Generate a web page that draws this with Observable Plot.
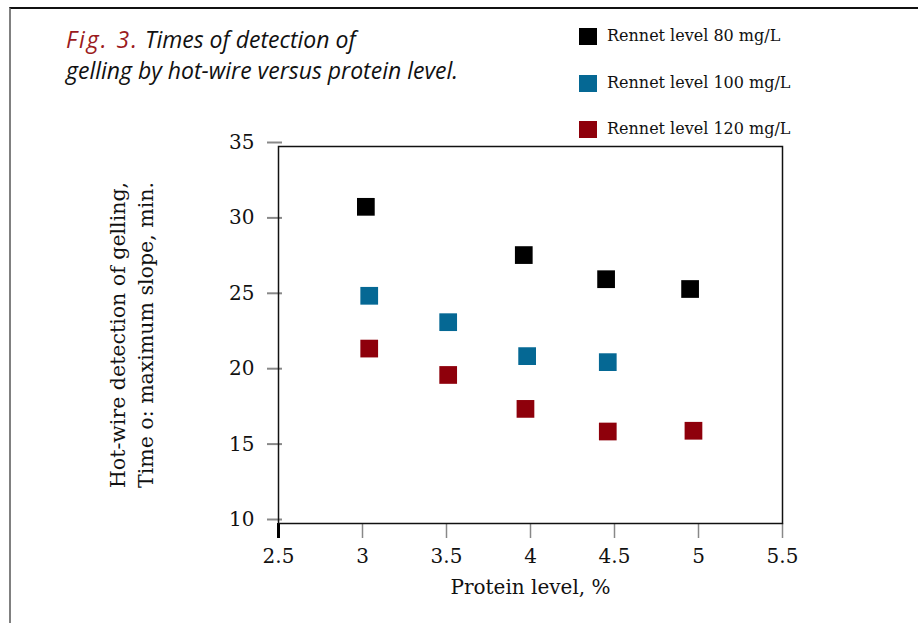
<!DOCTYPE html>
<html>
<head>
<meta charset="utf-8">
<script src="https://cdn.jsdelivr.net/npm/d3@7"></script>
<script src="https://cdn.jsdelivr.net/npm/@observablehq/plot@0.6"></script>
<style>
  html, body { margin: 0; padding: 0; background: #fff; }
  #wrap { position: relative; width: 918px; height: 623px; overflow: hidden; }
  #outer { position: absolute; left: 9px; top: 7px; width: 1000px; height: 700px;
           border-top: 2px solid #111; border-left: 2px solid #808080; }
  #title { position: absolute; left: 66px; top: 24px; font-family: "Open Sans", sans-serif;
           font-style: italic; font-size: 23px; line-height: 31px; color: #111; white-space: nowrap; }
  #title .fig { color: #9b1a20; letter-spacing: 2px; }
  #legend { position: absolute; left: 579px; top: 0; font-family: "DejaVu Serif", serif; font-size: 16px; color: #111; }
  .item { position: absolute; left: 0; white-space: nowrap; height: 18px; }
  .sw { position: absolute; left: 0; top: 0; width: 18px; height: 17px; }
  .lab { position: absolute; left: 28px; top: -2px; line-height: 20px; }
  #ylab { position: absolute; left: -68px; top: 307px; width: 400px; height: 56px; text-align: center;
          font-family: "DejaVu Serif", serif; font-size: 20.5px; line-height: 28px; color: #111;
          transform: rotate(-90deg); transform-origin: 200px 28px; }
  #chart { position: absolute; left: 0; top: 0; }
</style>
</head>
<body>
<div id="wrap">
  <div id="outer"></div>
  <div id="chart"></div>
  <div id="title"><span class="fig">Fig. 3.</span> Times of detection of<br>gelling by hot-wire versus protein level.</div>
  <div id="legend"></div>
  <div id="ylab">Hot-wire detection of gelling,<br>Time o: maximum slope, min.</div>
</div>
<script>
// ---- Data ----
const seriesNames = ["Rennet level 80 mg/L", "Rennet level 100 mg/L", "Rennet level 120 mg/L"];
const seriesColors = ["#000000", "#056894", "#8e000b"];

const protein80 = [3.02, 3.96, 4.45, 4.95];
const time80    = [31.0, 27.8, 26.2, 25.55];

const protein100 = [3.04, 3.51, 3.98, 4.46];
const time100    = [25.1, 23.35, 21.1, 20.7];

const protein120 = [3.04, 3.51, 3.97, 4.46, 4.97];
const time120    = [21.6, 19.85, 17.6, 16.1, 16.15];

const xTicks = [2.5, 3, 3.5, 4, 4.5, 5, 5.5];
const yTicks = [10, 15, 20, 25, 30, 35];
const xLabel = "Protein level, %";

// ---- Build rows ----
const rows = [];
[[protein80, time80], [protein100, time100], [protein120, time120]].forEach(([xs, ys], i) => {
  xs.forEach((x, j) => rows.push({series: seriesNames[i], protein: x, time: ys[j]}));
});

// ---- Legend ----
const legendTops = [28, 75, 121];
const legend = document.getElementById("legend");
seriesNames.forEach((name, i) => {
  const it = document.createElement("div");
  it.className = "item";
  it.style.top = legendTops[i] + "px";
  it.innerHTML = `<div class="sw" style="background:${seriesColors[i]}"></div><div class="lab">${name}</div>`;
  legend.appendChild(it);
});

// ---- Plot ----
const chart = Plot.plot({
  width: 918,
  height: 623,
  marginLeft: 278,
  marginRight: 136,
  marginTop: 146,
  marginBottom: 100,
  style: {fontFamily: "DejaVu Serif, serif", fontSize: "20px", background: "transparent", color: "#111"},
  x: {domain: [2.5, 5.5]},
  y: {domain: [10, 35]},
  color: {domain: seriesNames, range: seriesColors},
  marks: [
    Plot.axisY({ticks: yTicks, tickSize: 15, dx: 4, tickPadding: 13, dy: -4, stroke: "#888", strokeWidth: 2,
                label: null, fontSize: 20}),
    Plot.axisX({ticks: xTicks, tickFormat: d => String(d), tickSize: 15, tickPadding: 10, stroke: "#888",
                strokeWidth: 1.5, fontSize: 20, label: xLabel, labelAnchor: "center", labelOffset: 70, labelArrow: "none"}),
    Plot.axisX({ticks: [xTicks[0]], tickFormat: () => "", tickSize: 15, stroke: "#000", strokeWidth: 3, label: null}),
    Plot.frame({stroke: "#111", strokeWidth: 1.5}),
    Plot.dot(rows, {x: "protein", y: "time", fill: "series", symbol: "square", r: 10, stroke: "none"})
  ]
});
document.getElementById("chart").appendChild(chart);
</script>
</body>
</html>
